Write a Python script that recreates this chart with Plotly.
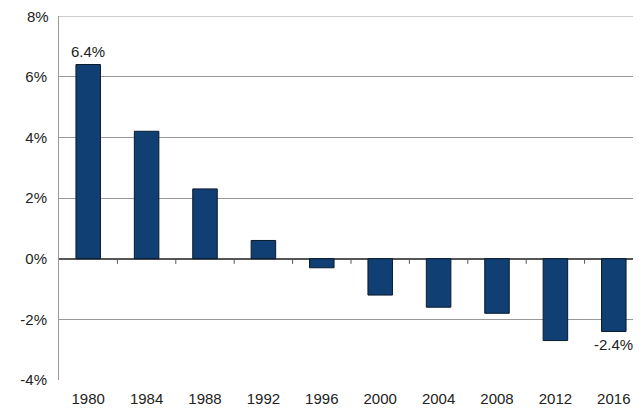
import plotly.graph_objects as go

years = ["1980", "1984", "1988", "1992", "1996", "2000", "2004", "2008", "2012", "2016"]
values = [6.4, 4.2, 2.3, 0.6, -0.3, -1.2, -1.6, -1.8, -2.7, -2.4]
tick_vals = [-4, -2, 0, 2, 4, 6, 8]
tick_text = ["-4%", "-2%", "0%", "2%", "4%", "6%", "8%"]

fig = go.Figure(go.Bar(
    x=list(range(len(years))), y=values,
    marker=dict(color="#0f3f73", line=dict(color="#0a1a2e", width=1)),
))

# labels on first and last bars
for i in (0, len(years) - 1):
    v = values[i]
    fig.add_annotation(x=i, y=v, text=f"{v:.1f}%", showarrow=False,
                       yanchor="bottom" if v > 0 else "top",
                       yshift=3 if v > 0 else -3, font=dict(size=15, color="#222"))

# top tick label gets dropped at the paper edge, so draw it as an annotation
fig.add_annotation(x=0, xref="paper", y=tick_vals[-1], text=tick_text[-1],
                   showarrow=False, xanchor="right", xshift=-8,
                   font=dict(size=15, color="#222"))

# small category tick marks on the zero line
for i in range(len(years) - 1):
    fig.add_shape(type="line", x0=i + 0.5, x1=i + 0.5, y0=0, y1=-0.17,
                  line=dict(color="#555", width=1))

fig.update_layout(
    width=641, height=416,
    margin=dict(l=51, r=6, t=8, b=44),
    plot_bgcolor="white", paper_bgcolor="white",
    bargap=0.58, showlegend=False,
    font=dict(family="Liberation Sans, Arial", size=15, color="#222"),
)
fig.update_yaxes(range=[-4, 8], tickvals=tick_vals[:-1], ticktext=tick_text[:-1],
                 showgrid=True, gridcolor="#999", gridwidth=1, zeroline=True,
                 zerolinecolor="#555", showline=True, linecolor="#999", ticks="",
                 automargin=False, ticklabelstandoff=8)
fig.update_xaxes(tickvals=list(range(len(years))), ticktext=years,
                 range=[-0.5, len(years) - 0.5], automargin=False,
                 showgrid=False, showline=False, ticks="", ticklabelstandoff=8)
fig.add_hline(y=8, line=dict(color="#999", width=1))

fig.write_html("out.html")
